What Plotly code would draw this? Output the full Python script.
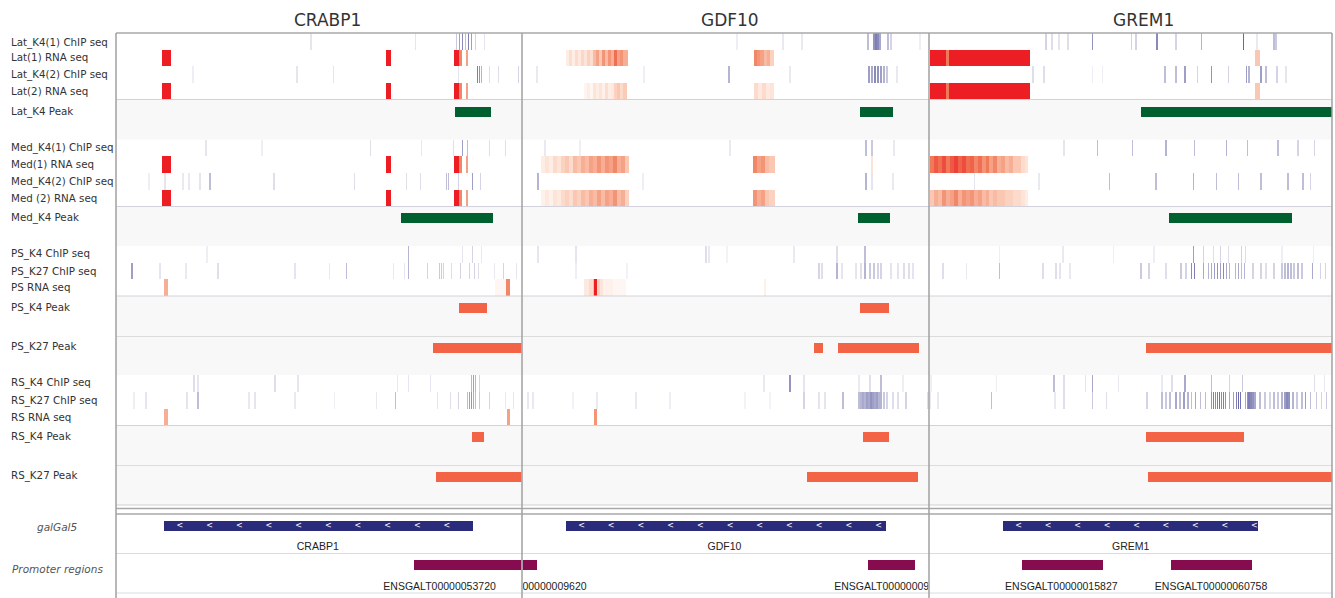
import plotly.graph_objects as go

PAGE_W, PAGE_H = 1335, 598
OX, OY = 0, 0
W, H = PAGE_W - OX, PAGE_H - OY
PANELS = ["CRABP1", "GDF10", "GREM1"]
TITLE_X = [327, 730, 1143]
SPAN = 406  # genomic window units per panel

# ---------------- data (positions within each gene window) ----------------
# ChIP tracks: (position, intensity) per panel  [CRABP1, GDF10, GREM1]
lat_k4_1_chip = [
    [(195, .12), (300, .12), (341, .25), (344, .45), (347, .55), (350, .3), (353, .6), (356, .45), (360, .2), (369, .12)],
    [(214, .08), (260, .1), (279, .1), (345, .3), (351, .5), (353, .6), (355, .55), (357, .4), (365, .3), (368, .2), (397, .08)],
    [(117, .2), (123, .15), (130, .12), (139, .15), (164, .5), (203, .2), (208, .2), (229, .55), (248, .2), (274, .35),
     (316, .7), (330, .1), (347, .3), (349, .25)],
]
lat_k4_2_chip = [
    [(77, .08), (181, .12), (218, .12), (343, .12), (362, .6), (364, .5), (366, .35), (374, .15), (383, .15), (403, .2)],
    [(14, .1), (121, .08), (206, .35), (267, .1), (346, .45), (349, .4), (352, .55), (355, .5), (358, .45), (361, .35),
     (364, .25), (374, .1)],
    [(104, .15), (115, .15), (164, .08), (174, .08), (237, .3), (248, .3), (257, .45), (270, .2), (284, .5), (301, .2),
     (319, .45), (322, .35), (334, .45), (339, .3), (350, .2), (359, .12)],
]
med_k4_1_chip = [
    [(90, .12), (146, .08), (255, .15), (306, .1), (338, .15), (347, .45), (352, .3), (374, .15), (390, .15)],
    [(22, .1), (57, .08), (207, .1), (343, .3), (349, .25), (371, .1)],
    [(135, .12), (169, .3), (204, .3), (238, .35), (267, .3), (299, .35), (320, .3), (351, .3), (371, .2), (388, .2)],
]
med_k4_2_chip = [
    [(33, .08), (49, .12), (67, .1), (73, .1), (84, .12), (94, .3), (158, .15), (239, .15), (291, .15), (305, .15),
     (331, .3), (333, .3), (343, .2), (357, .45), (365, .2)],
    [(15, .35), (120, .08), (343, .35), (349, .12), (370, .1)],
    [(45, .12), (110, .1), (181, .3), (228, .3), (266, .35), (289, .3), (311, .3), (334, .3), (361, .3), (376, .3), (384, .2)],
]
ps_k4_chip = [
    [(91, .08), (293, .35), (347, .12), (357, .2), (366, .1)],
    [(15, .12), (53, .12), (183, .15), (186, .1), (204, .06), (271, .1), (314, .15), (342, .3)],
    [(70, .08), (134, .1), (185, .08), (226, .08), (266, .45), (276, .2), (286, .15), (293, .2), (301, .15), (314, .2),
     (318, .15), (355, .08), (387, .08)],
]
ps_k27_chip = [
    [(16, .45), (44, .12), (70, .1), (102, .15), (179, .12), (214, .1), (231, .3), (278, .1), (289, .12), (293, .35),
     (312, .2), (324, .25), (326, .25), (328, .2), (336, .15), (345, .2), (354, .2), (359, .2), (363, .15), (379, .1),
     (388, .2), (401, .12)],
    [(53, .08), (104, .06), (296, .2), (299, .15), (314, .35), (319, .12), (333, .12), (338, .15), (342, .35), (347, .25),
     (351, .25), (355, .2), (358, .2), (368, .12), (375, .12), (381, .15), (386, .15), (390, .12)],
    [(13, .15), (37, .1), (70, .3), (114, .15), (127, .15), (131, .12), (141, .1), (213, .25), (221, .2), (238, .15),
     (253, .25), (258, .2), (264, .55), (267, .6), (276, .4), (281, .35), (284, .4), (287, .45), (290, .5), (293, .45),
     (296, .55), (299, .4), (302, .35), (308, .35), (311, .4), (314, .3), (317, .35), (326, .2), (334, .2), (339, .15),
     (347, .2), (355, .25), (358, .3), (361, .35), (364, .3), (367, .25), (371, .3), (375, .25), (386, .4), (394, .2),
     (399, .2)],
]
rs_k4_chip = [
    [(78, .15), (82, .12), (159, .15), (182, .12), (282, .1), (293, .12), (315, .12), (356, .35), (358, .45), (360, .35),
     (364, .2)],
    [(241, .1), (267, .5), (281, .12), (336, .1), (347, .15), (358, .3), (380, .08)],
    [(1, .08), (67, .08), (125, .3), (135, .15), (157, .12), (164, .4), (190, .1), (234, .1), (244, .15), (257, .4),
     (284, .3), (302, .2), (315, .25), (388, .15), (398, .1)],
]
rs_k27_chip = [
    [(18, .08), (30, .12), (71, .12), (82, .3), (133, .1), (139, .12), (179, .1), (219, .08), (261, .1), (280, .3),
     (322, .12), (335, .15), (343, .2), (352, .3), (354, .45), (356, .5), (358, .4), (360, .3), (364, .25), (374, .2),
     (390, .1), (398, .12)],
    [(5, .1), (10, .1), (50, .06), (74, .1), (113, .1), (147, .08), (222, .06), (247, .06), (281, .2), (296, .12),
     (302, .12), (320, .3), (336, .3), (338, .35), (340, .4), (342, .35), (344, .45), (346, .4), (348, .5), (350, .45),
     (352, .4), (354, .45), (356, .35), (358, .35), (361, .25), (364, .2), (370, .15), (375, .15), (383, .2), (405, .15)],
    [(0, .1), (8, .1), (62, .3), (126, .1), (135, .15), (164, .25), (178, .15), (219, .2), (234, .3), (238, .25),
     (242, .3), (248, .4), (252, .3), (256, .45), (260, .35), (264, .3), (268, .4), (273, .3), (278, .3), (284, .5),
     (286, .6), (288, .55), (290, .6), (292, .65), (294, .55), (296, .6), (298, .5), (302, .4), (306, .45), (309, .6),
     (311, .7), (313, .65), (318, .4), (320, .5), (322, .6), (324, .55), (326, .5), (328, .4), (333, .3), (338, .25),
     (343, .2), (347, .3), (351, .25), (355, .35), (358, .45), (360, .55), (362, .5), (366, .35), (370, .25), (375, .3),
     (379, .45), (384, .3), (390, .25), (395, .2), (400, .25)],
]

# RNA tracks: (start, end, intensity)
crabp1_rna = [(46, 55, 1.0), (270, 275, 1.0), (338, 343, 1.0), (343, 346, .55), (350, 352, .45)]
lat1_rna = [
    crabp1_rna,
    [(43, 46, .1), (46, 49, .18), (49, 52, .1), (52, 55, .2), (55, 58, .12), (58, 61, .22), (61, 64, .15), (64, 67, .25),
     (67, 70, .18), (70, 73, .35), (73, 76, .45), (76, 79, .3), (79, 82, .5), (82, 85, .35), (85, 88, .5), (88, 91, .4),
     (91, 94, .65), (94, 97, .45), (97, 100, .5), (100, 105, .4),
     (231, 234, .55), (234, 237, .5), (237, 241, .45), (241, 244, .35), (244, 247, .4), (247, 251, .25)],
    [(0, 16, 1.0), (16, 19, .6), (19, 101, 1.0), (328, 333, .3)],
]
lat2_rna = [
    crabp1_rna,
    [(61, 64, .06), (64, 67, .1), (67, 70, .05), (70, 73, .15), (73, 76, .1), (76, 79, .15), (79, 82, .08), (82, 85, .18),
     (85, 88, .1), (88, 91, .12), (91, 94, .25), (94, 97, .3), (97, 100, .2), (100, 104, .28),
     (231, 235, .2), (235, 239, .12), (239, 243, .2), (243, 247, .12), (247, 251, .15)],
    [(0, 16, 1.0), (16, 19, .6), (19, 101, 1.0), (328, 333, .3)],
]
med1_rna = [
    crabp1_rna,
    [(18, 22, .1), (22, 26, .15), (26, 30, .1), (30, 34, .2), (34, 38, .15), (38, 42, .25), (42, 46, .3), (46, 50, .2),
     (50, 54, .35), (54, 58, .3), (58, 62, .4), (62, 66, .35), (66, 70, .45), (70, 74, .4), (74, 78, .5), (78, 82, .4),
     (82, 86, .5), (86, 90, .45), (90, 94, .55), (94, 98, .4), (98, 102, .45), (102, 106, .3),
     (230, 234, .55), (234, 238, .45), (238, 242, .5), (242, 246, .35), (246, 252, .3), (348, 350, .15)],
    [(0, 4, .6), (4, 8, .75), (8, 12, .65), (12, 16, .8), (16, 20, .6), (20, 24, .75), (24, 28, .85), (28, 32, .7),
     (32, 36, .8), (36, 40, .65), (40, 44, .7), (44, 48, .55), (48, 52, .65), (52, 56, .5), (56, 60, .6), (60, 64, .45),
     (64, 68, .55), (68, 72, .4), (72, 76, .45), (76, 80, .35), (80, 84, .4), (84, 88, .3), (88, 92, .3), (92, 96, .2),
     (96, 99, .15)],
]
med2_rna = [
    crabp1_rna,
    [(18, 22, .08), (22, 26, .12), (26, 30, .08), (30, 34, .15), (34, 38, .12), (38, 42, .2), (42, 46, .25), (46, 50, .18),
     (50, 54, .3), (54, 58, .25), (58, 62, .35), (62, 66, .3), (66, 70, .4), (70, 74, .35), (74, 78, .45), (78, 82, .35),
     (82, 86, .45), (86, 90, .4), (90, 94, .5), (94, 98, .35), (98, 102, .4), (102, 106, .25),
     (230, 234, .5), (234, 238, .4), (238, 242, .45), (242, 246, .3), (246, 252, .25)],
    [(0, 4, .3), (4, 8, .4), (8, 12, .35), (12, 16, .5), (16, 20, .4), (20, 24, .45), (24, 28, .55), (28, 32, .4),
     (32, 36, .5), (36, 40, .45), (40, 44, .5), (44, 48, .4), (48, 52, .45), (52, 56, .35), (56, 60, .4), (60, 64, .3),
     (64, 68, .35), (68, 72, .3), (72, 76, .3), (76, 80, .25), (80, 84, .25), (84, 88, .2), (88, 92, .2), (92, 96, .15),
     (96, 99, .1)],
]
ps_rna = [
    [(48, 52, .4), (379, 390, .05), (390, 394, .55)],
    [(61, 66, .12), (66, 70, .2), (70, 71, .35), (71, 74, 1.0), (74, 77, .25), (77, 80, .15), (80, 90, .08), (90, 103, .05),
     (241, 243, .08)],
    [],
]
rs_rna = [
    [(48, 52, .4), (391, 394, .45)],
    [(71, 74, .5)],
    [],
]

# Peak tracks: (start, end)
lat_k4_peak = [[(339, 375)], [(337, 370)], [(213, 410)]]
med_k4_peak = [[(285, 377)], [(335, 367)], [(241, 365)]]
ps_k4_peak = [[(343, 371)], [(337, 366)], []]
ps_k27_peak = [[(317, 410)], [(291, 300), (315, 396)], [(218, 410)]]
rs_k4_peak = [[(356, 368)], [(340, 366)], [(218, 317)]]
rs_k27_peak = [[(320, 410)], [(284, 395)], [(220, 410)]]

# Gene annotation (galGal5): (start, end, name, label position)
genes = [[(48, 357, "CRABP1", 202)], [(43, 363, "GDF10", 202)], [(74, 331, "GREM1", 203)]]
# Promoter regions: (start, end, shown label, label position)
promoters = [
    [(298, 421, "ENSGALT00000053720", 324)],
    [(-40, 14, "00000009620", 32), (345, 392, "ENSGALT00000009623", 368)],
    [(93, 175, "ENSGALT00000015827", 133), (243, 325, "ENSGALT00000060758", 284)],
]

# ---------------- layout geometry (page pixels) ----------------
PANEL_PX = [(116, 521.5), (522.5, 928.5), (929.5, 1332)]
SIGNAL_ROWS = [  # label, kind, top, bottom, data, label_y
    ("Lat_K4(1) ChIP seq", "chip", 33, 49.5, lat_k4_1_chip, 42),
    ("Lat(1) RNA seq", "rna", 49.5, 66, lat1_rna, 57),
    ("Lat_K4(2) ChIP seq", "chip", 66, 83, lat_k4_2_chip, 74),
    ("Lat(2) RNA seq", "rna", 83, 99.5, lat2_rna, 91),
    ("Med_K4(1) ChIP seq", "chip", 139.5, 156, med_k4_1_chip, 147),
    ("Med(1) RNA seq", "rna", 156, 173, med1_rna, 164),
    ("Med_K4(2) ChIP seq", "chip", 173, 189.5, med_k4_2_chip, 181),
    ("Med (2) RNA seq", "rna", 189.5, 206.5, med2_rna, 198),
    ("PS_K4 ChIP seq", "chip", 246, 262.5, ps_k4_chip, 253),
    ("PS_K27 ChIP seq", "chip", 262.5, 279, ps_k27_chip, 271),
    ("PS RNA seq", "rna", 279, 296, ps_rna, 287),
    ("RS_K4 ChIP seq", "chip", 375, 392, rs_k4_chip, 382),
    ("RS_K27 ChIP seq", "chip", 392, 408.5, rs_k27_chip, 400),
    ("RS RNA seq", "rna", 408.5, 425.5, rs_rna, 417),
]
GREEN, ORANGE = "#00602f", "#f26445"
PEAK_ROWS = [  # label, row top, row bottom, bar top, bar bottom, data, colour
    ("Lat_K4 Peak", 99.5, 139.5, 107, 117, lat_k4_peak, GREEN),
    ("Med_K4 Peak", 206.5, 246, 213, 223, med_k4_peak, GREEN),
    ("PS_K4 Peak", 296, 336.5, 303, 313, ps_k4_peak, ORANGE),
    ("PS_K27 Peak", 336.5, 375, 342.5, 352.5, ps_k27_peak, ORANGE),
    ("RS_K4 Peak", 425.5, 465.5, 432, 442, rs_k4_peak, ORANGE),
    ("RS_K27 Peak", 465.5, 505, 471.5, 481.5, rs_k27_peak, ORANGE),
]
STRIPE_W = 1.5


def px(x):
    return (x - OX) / W


def chip_color(t):
    return f"rgba(40,40,130,{min(1.0, t):.3f})"


def rna_color(t):
    stops = [(0.0, (255, 255, 255)), (0.3, (250, 200, 178)), (0.6, (240, 122, 88)), (1.0, (236, 30, 36))]
    for (t0, c0), (t1, c1) in zip(stops[:-1], stops[1:]):
        if t <= t1:
            f = (t - t0) / (t1 - t0)
            c = [round(a + (b - a) * f) for a, b in zip(c0, c1)]
            return f"rgb({c[0]},{c[1]},{c[2]})"
    return "rgb(236,30,36)"


fig = go.Figure()


def xa(i):
    return "x" if i == 0 else f"x{i + 1}"


def add_hbars(i, starts, ends, yc, thick, colors):
    if not starts:
        return
    fig.add_trace(go.Bar(
        orientation="h", base=starts, x=[e - s for s, e in zip(starts, ends)],
        y=[yc] * len(starts), width=thick, marker=dict(color=colors, line=dict(width=0)),
        xaxis=xa(i), yaxis="y", hoverinfo="skip", showlegend=False))


for label, kind, top, bot, data, ly in SIGNAL_ROWS:
    for i in range(3):
        items = data[i]
        if kind == "chip":
            s = [p - STRIPE_W / 2 for p, _ in items]
            e = [p + STRIPE_W / 2 for p, _ in items]
            c = [chip_color(t) for _, t in items]
        else:
            s = [a for a, _, _ in items]
            e = [b for _, b, _ in items]
            c = [rna_color(t) for _, _, t in items]
        add_hbars(i, s, e, (top + bot) / 2, bot - top, c)

for label, rtop, rbot, btop, bbot, data, col in PEAK_ROWS:
    for i in range(3):
        add_hbars(i, [a for a, _ in data[i]], [b for _, b in data[i]], (btop + bbot) / 2, bbot - btop,
                  [col] * len(data[i]))

# gene track
GENE_Y, GENE_T, GENE_LBL_Y = 526, 10, 547
PROM_Y, PROM_T, PROM_LBL_Y = 565, 10, 587
for i in range(3):
    g = genes[i]
    add_hbars(i, [a for a, _, _, _ in g], [b for _, b, _, _ in g], GENE_Y, GENE_T, ["#2b2b7c"] * len(g))
    chev = []
    for a, b, _, _ in g:
        p = a + 16
        while p <= b - 3:
            chev.append(p)
            p += 29.7
    fig.add_trace(go.Scatter(x=chev, y=[GENE_Y] * len(chev), mode="text", text=["<"] * len(chev),
                             textfont=dict(family="DejaVu Sans", size=8, color="white"),
                             xaxis=xa(i), yaxis="y", hoverinfo="skip", showlegend=False))
    fig.add_trace(go.Scatter(x=[lp for _, _, _, lp in g], y=[GENE_LBL_Y] * len(g), mode="text",
                             text=[n for _, _, n, _ in g], cliponaxis=True,
                             textfont=dict(family="Liberation Sans", size=10.5, color="#222"),
                             xaxis=xa(i), yaxis="y", hoverinfo="skip", showlegend=False))
    pr = promoters[i]
    add_hbars(i, [a for a, _, _, _ in pr], [b for _, b, _, _ in pr], PROM_Y, PROM_T, ["#870c4f"] * len(pr))
    fig.add_trace(go.Scatter(x=[lp for _, _, _, lp in pr], y=[PROM_LBL_Y] * len(pr), mode="text",
                             text=[n for _, _, n, _ in pr], cliponaxis=True,
                             textfont=dict(family="Liberation Sans", size=10.5, color="#222"),
                             xaxis=xa(i), yaxis="y", hoverinfo="skip", showlegend=False))

# ---------------- decoration ----------------
shapes = []
L, R = px(116), px(1332)
for label, rtop, rbot, *_ in PEAK_ROWS:
    shapes.append(dict(type="rect", xref="paper", yref="y", x0=L, x1=R, y0=rtop, y1=rbot,
                       fillcolor="#f8f8f8", line=dict(width=0), layer="below"))
for yv, col in [(99.5, "#d2d2dc"), (206.5, "#d2d2dc"), (296, "#d2d2dc"), (336.5, "#dcdcdc"), (425.5, "#d2d2dc"),
                (465.5, "#dcdcdc"), (505, "#d0d0d0"), (553.5, "#dcdcdc"), (593, "#dcdcdc")]:
    shapes.append(dict(type="line", xref="paper", yref="y", x0=L, x1=R, y0=yv, y1=yv, line=dict(color=col, width=1)))
for yv in [33, 508.5, 514]:
    shapes.append(dict(type="line", xref="paper", yref="y", x0=L, x1=R, y0=yv, y1=yv,
                       line=dict(color="#a8a8a8", width=1.5)))
for xv in [116, 522, 929, 1332]:
    shapes.append(dict(type="line", xref="paper", yref="y", x0=px(xv), x1=px(xv), y0=33, y1=PAGE_H,
                       line=dict(color="#a0a0a0", width=1.5)))

ann = []
for i, name in enumerate(PANELS):
    ann.append(dict(text=name, xref="paper", yref="y", x=px(TITLE_X[i]), y=20, xanchor="center", yanchor="middle",
                    showarrow=False, font=dict(family="DejaVu Sans", size=17, color="#333")))
for label, kind, top, bot, data, ly in SIGNAL_ROWS:
    ann.append(dict(text=label, xref="paper", yref="y", x=px(9), y=ly, xanchor="left", yanchor="middle",
                    showarrow=False, font=dict(family="DejaVu Sans", size=10.3, color="#333")))
for label, rtop, rbot, btop, bbot, data, col in PEAK_ROWS:
    ann.append(dict(text=label, xref="paper", yref="y", x=px(9), y=(btop + bbot) / 2 - 1, xanchor="left",
                    yanchor="middle", showarrow=False, font=dict(family="DejaVu Sans", size=10.3, color="#333")))
for text, yv in [("galGal5", 527), ("Promoter regions", 569)]:
    ann.append(dict(text=f"<i>{text}</i>", xref="paper", yref="y", x=px(57), y=yv, xanchor="center",
                    yanchor="middle", showarrow=False, font=dict(family="DejaVu Sans", size=10.5, color="#555")))

layout = dict(
    width=W, height=H, margin=dict(l=0, r=0, t=0, b=0),
    paper_bgcolor="white", plot_bgcolor="rgba(0,0,0,0)", barmode="overlay", bargap=0,
    showlegend=False, shapes=shapes, annotations=ann,
    yaxis=dict(domain=[0, 1], range=[OY + H, OY], visible=False, fixedrange=True),
)
for i in range(3):
    a, b = PANEL_PX[i]
    key = "xaxis" if i == 0 else f"xaxis{i + 1}"
    layout[key] = dict(domain=[px(a), px(b)], range=[0, SPAN], visible=False, fixedrange=True, anchor="y")
fig.update_layout(**layout)
# remove the browser's default page margin so the 1335x598 figure fills the window exactly
fig.write_html("out.html", config={"displayModeBar": False},
               post_script="document.body.style.margin='0px';")
